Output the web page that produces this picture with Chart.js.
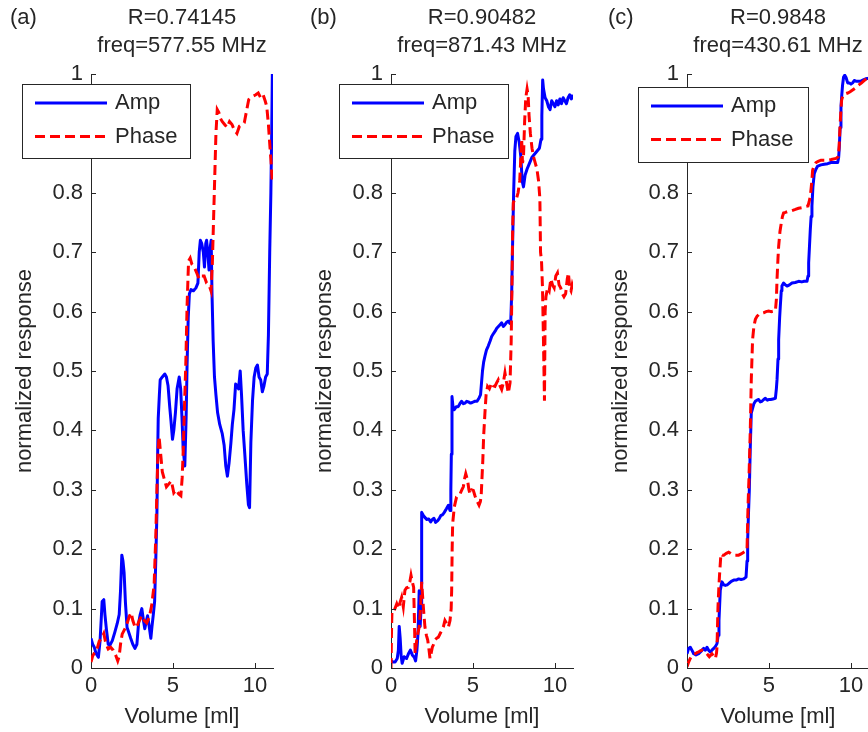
<!DOCTYPE html>
<html>
<head>
<meta charset="utf-8">
<title>Normalized response vs volume</title>
<script src="https://cdn.jsdelivr.net/npm/chart.js@4.4.0/dist/chart.umd.min.js"></script>
<style>
  html, body { margin: 0; padding: 0; background: #fff; }
  #fig { position: relative; width: 868px; height: 732px; overflow: hidden; }
  #fig canvas { position: absolute; top: 0; }
</style>
</head>
<body>
<div id="fig">
  <canvas id="panelA" width="290" height="732" style="left:0px"></canvas>
  <canvas id="panelB" width="290" height="732" style="left:300px"></canvas>
  <canvas id="panelC" width="290" height="732" style="left:596px"></canvas>
</div>
<script>
// tick values shared by all three panels
const xTickValues = [0, 5, 10]
const yTickValues = [0, 0.1, 0.2, 0.3, 0.4, 0.5, 0.6, 0.7, 0.8, 0.9, 1]
const yTickLabels = ['0', '0.1', '0.2', '0.3', '0.4', '0.5', '0.6', '0.7', '0.8', '0.9', '1']

// [volume ml, normalized response]
const ampA = [[0,0.05],[0.1,0.04],[0.2,0.035],[0.3,0.025],[0.45,0.018],[0.55,0.045],[0.62,0.08],[0.68,0.112],[0.78,0.115],[0.85,0.09],[0.94,0.065],[1.05,0.04],[1.15,0.038],[1.3,0.046],[1.45,0.06],[1.6,0.075],[1.72,0.09],[1.8,0.13],[1.88,0.19],[1.95,0.18],[2.02,0.16],[2.1,0.11],[2.2,0.068],[2.3,0.06],[2.42,0.05],[2.55,0.04],[2.68,0.033],[2.8,0.04],[2.9,0.075],[3.0,0.09],[3.1,0.1],[3.2,0.08],[3.28,0.066],[3.38,0.08],[3.45,0.088],[3.55,0.07],[3.65,0.05],[3.72,0.07],[3.8,0.09],[3.88,0.112],[3.95,0.18],[4.02,0.26],[4.06,0.35],[4.1,0.42],[4.17,0.46],[4.22,0.485],[4.35,0.49],[4.5,0.495],[4.6,0.49],[4.7,0.475],[4.8,0.44],[4.88,0.415],[4.97,0.385],[5.05,0.4],[5.15,0.43],[5.25,0.47],[5.38,0.49],[5.47,0.47],[5.55,0.42],[5.62,0.37],[5.72,0.34],[5.8,0.42],[5.86,0.51],[5.93,0.59],[6.0,0.63],[6.1,0.637],[6.25,0.635],[6.4,0.64],[6.52,0.648],[6.6,0.7],[6.67,0.72],[6.75,0.715],[6.85,0.7],[6.92,0.675],[7.0,0.715],[7.05,0.72],[7.12,0.7],[7.2,0.67],[7.28,0.71],[7.33,0.72],[7.38,0.63],[7.45,0.55],[7.53,0.49],[7.62,0.46],[7.72,0.43],[7.85,0.41],[8.0,0.395],[8.12,0.375],[8.22,0.34],[8.32,0.323],[8.42,0.345],[8.53,0.378],[8.62,0.41],[8.72,0.435],[8.82,0.478],[8.92,0.475],[9.0,0.47],[9.1,0.5],[9.18,0.46],[9.28,0.4],[9.38,0.36],[9.5,0.31],[9.6,0.275],[9.67,0.27],[9.75,0.38],[9.85,0.45],[9.95,0.49],[10.05,0.505],[10.15,0.51],[10.25,0.49],[10.35,0.485],[10.45,0.465],[10.55,0.475],[10.65,0.49],[10.75,0.495],[10.82,0.56],[10.9,0.7],[10.97,0.8],[11.02,0.9],[11.06,1.0]]
const phaseA = [[0,0.01],[0.1,0.02],[0.2,0.025],[0.35,0.03],[0.5,0.045],[0.65,0.05],[0.78,0.058],[0.9,0.042],[1.05,0.032],[1.2,0.035],[1.35,0.03],[1.5,0.022],[1.63,0.012],[1.72,0.02],[1.8,0.04],[1.9,0.057],[2.05,0.065],[2.2,0.075],[2.35,0.088],[2.45,0.093],[2.55,0.08],[2.7,0.068],[2.8,0.07],[2.95,0.08],[3.1,0.088],[3.25,0.08],[3.4,0.076],[3.55,0.085],[3.7,0.105],[3.85,0.14],[3.95,0.22],[4.02,0.3],[4.08,0.36],[4.15,0.39],[4.25,0.36],[4.35,0.33],[4.45,0.32],[4.6,0.305],[4.75,0.31],[4.9,0.315],[5.05,0.295],[5.2,0.3],[5.35,0.293],[5.48,0.29],[5.56,0.32],[5.63,0.37],[5.7,0.44],[5.78,0.51],[5.86,0.61],[5.95,0.685],[6.05,0.69],[6.15,0.68],[6.3,0.675],[6.45,0.665],[6.6,0.655],[6.75,0.66],[6.9,0.66],[7.05,0.648],[7.2,0.645],[7.32,0.635],[7.4,0.68],[7.48,0.76],[7.55,0.83],[7.62,0.9],[7.7,0.94],[7.8,0.935],[7.9,0.925],[8.0,0.92],[8.15,0.915],[8.3,0.91],[8.45,0.92],[8.6,0.915],[8.75,0.905],[8.9,0.9],[9.05,0.912],[9.2,0.915],[9.35,0.918],[9.5,0.94],[9.62,0.957],[9.75,0.96],[9.9,0.963],[10.05,0.965],[10.2,0.968],[10.35,0.96],[10.5,0.965],[10.62,0.955],[10.72,0.945],[10.82,0.915],[10.92,0.875],[11.0,0.845],[11.05,0.82]]

const ampB = [[0,0.013],[0.12,0.01],[0.25,0.01],[0.38,0.016],[0.45,0.03],[0.5,0.07],[0.56,0.05],[0.62,0.02],[0.68,0.008],[0.8,0.019],[0.95,0.016],[1.08,0.025],[1.18,0.03],[1.3,0.022],[1.42,0.018],[1.5,0.012],[1.58,0.03],[1.65,0.06],[1.72,0.13],[1.78,0.07],[1.83,0.1],[1.87,0.262],[1.95,0.258],[2.05,0.254],[2.18,0.25],[2.3,0.251],[2.42,0.246],[2.52,0.25],[2.62,0.252],[2.72,0.245],[2.85,0.248],[2.95,0.252],[3.05,0.257],[3.15,0.258],[3.25,0.262],[3.38,0.268],[3.5,0.274],[3.6,0.265],[3.65,0.3],[3.68,0.36],[3.72,0.457],[3.78,0.44],[3.86,0.435],[3.98,0.44],[4.1,0.44],[4.2,0.445],[4.3,0.449],[4.42,0.445],[4.52,0.446],[4.62,0.449],[4.72,0.448],[4.85,0.446],[4.95,0.447],[5.1,0.449],[5.25,0.449],[5.38,0.455],[5.46,0.46],[5.52,0.48],[5.58,0.5],[5.65,0.515],[5.73,0.525],[5.82,0.535],[5.93,0.542],[6.04,0.55],[6.14,0.558],[6.25,0.563],[6.35,0.567],[6.45,0.572],[6.55,0.575],[6.65,0.578],[6.75,0.581],[6.85,0.575],[6.95,0.578],[7.05,0.582],[7.15,0.584],[7.25,0.58],[7.3,0.58],[7.36,0.63],[7.42,0.72],[7.48,0.8],[7.55,0.87],[7.62,0.895],[7.72,0.9],[7.82,0.885],[7.92,0.86],[8.0,0.82],[8.08,0.81],[8.18,0.83],[8.3,0.84],[8.45,0.85],[8.6,0.86],[8.75,0.865],[8.9,0.87],[9.05,0.875],[9.15,0.89],[9.2,0.93],[9.25,0.99],[9.3,0.975],[9.4,0.96],[9.5,0.955],[9.6,0.945],[9.7,0.94],[9.8,0.955],[9.9,0.95],[10.0,0.945],[10.1,0.955],[10.2,0.948],[10.3,0.958],[10.4,0.95],[10.5,0.96],[10.6,0.955],[10.7,0.95],[10.8,0.96],[10.9,0.965],[11.0,0.958],[11.1,0.965]]
const phaseB = [[0,0.0],[0.03,0.06],[0.06,0.097],[0.2,0.097],[0.35,0.108],[0.45,0.1],[0.55,0.11],[0.65,0.119],[0.75,0.103],[0.85,0.131],[0.95,0.135],[1.06,0.136],[1.15,0.145],[1.22,0.156],[1.3,0.145],[1.38,0.136],[1.43,0.08],[1.47,0.024],[1.57,0.047],[1.65,0.06],[1.72,0.069],[1.8,0.1],[1.87,0.145],[1.93,0.12],[1.98,0.1],[2.07,0.069],[2.16,0.055],[2.24,0.047],[2.32,0.03],[2.38,0.016],[2.45,0.025],[2.52,0.035],[2.6,0.04],[2.68,0.047],[2.78,0.05],[2.89,0.052],[3.0,0.058],[3.09,0.063],[3.2,0.07],[3.29,0.08],[3.4,0.075],[3.5,0.069],[3.6,0.08],[3.67,0.1],[3.7,0.131],[3.73,0.2],[3.76,0.243],[3.86,0.271],[4.0,0.288],[4.1,0.29],[4.21,0.293],[4.32,0.3],[4.41,0.305],[4.5,0.32],[4.56,0.327],[4.67,0.316],[4.75,0.3],[4.82,0.293],[4.92,0.3],[5.02,0.299],[5.12,0.29],[5.22,0.282],[5.3,0.278],[5.37,0.274],[5.45,0.28],[5.5,0.29],[5.55,0.32],[5.6,0.35],[5.65,0.39],[5.73,0.43],[5.8,0.46],[5.89,0.474],[6.0,0.47],[6.14,0.48],[6.24,0.475],[6.34,0.474],[6.44,0.48],[6.54,0.485],[6.65,0.475],[6.75,0.469],[6.85,0.48],[6.95,0.497],[7.05,0.48],[7.15,0.463],[7.2,0.47],[7.26,0.48],[7.33,0.55],[7.38,0.65],[7.42,0.74],[7.46,0.783],[7.55,0.79],[7.65,0.79],[7.75,0.8],[7.85,0.82],[7.92,0.86],[7.97,0.89],[8.02,0.85],[8.08,0.86],[8.15,0.92],[8.22,0.96],[8.3,0.975],[8.36,0.965],[8.42,0.93],[8.5,0.9],[8.6,0.875],[8.7,0.86],[8.8,0.85],[8.9,0.84],[9.0,0.82],[9.08,0.79],[9.12,0.7],[9.18,0.685],[9.24,0.64],[9.3,0.55],[9.36,0.45],[9.4,0.6],[9.45,0.625],[9.55,0.64],[9.65,0.635],[9.75,0.655],[9.85,0.645],[9.95,0.64],[10.05,0.66],[10.15,0.665],[10.25,0.645],[10.35,0.64],[10.45,0.63],[10.55,0.625],[10.65,0.63],[10.75,0.655],[10.82,0.665],[10.9,0.64],[10.98,0.635],[11.05,0.645],[11.1,0.64]]

const ampC = [[0,0.024],[0.1,0.033],[0.2,0.035],[0.3,0.03],[0.41,0.024],[0.55,0.022],[0.71,0.024],[0.85,0.028],[1.02,0.033],[1.12,0.03],[1.22,0.035],[1.32,0.03],[1.42,0.027],[1.52,0.03],[1.63,0.033],[1.73,0.036],[1.83,0.041],[1.9,0.055],[1.95,0.08],[2.03,0.131],[2.13,0.145],[2.24,0.14],[2.34,0.139],[2.45,0.14],[2.54,0.142],[2.7,0.146],[2.85,0.148],[3.0,0.148],[3.15,0.15],[3.3,0.149],[3.46,0.15],[3.6,0.153],[3.66,0.18],[3.7,0.215],[3.75,0.26],[3.8,0.299],[3.86,0.372],[3.92,0.429],[4.0,0.437],[4.08,0.445],[4.17,0.449],[4.27,0.451],[4.37,0.452],[4.47,0.448],[4.57,0.449],[4.68,0.452],[4.78,0.454],[4.9,0.451],[4.98,0.452],[5.1,0.452],[5.25,0.453],[5.39,0.454],[5.45,0.47],[5.49,0.485],[5.55,0.52],[5.59,0.553],[5.65,0.59],[5.69,0.609],[5.75,0.635],[5.79,0.643],[5.89,0.648],[6.0,0.645],[6.1,0.643],[6.25,0.645],[6.4,0.648],[6.6,0.649],[6.81,0.651],[7.0,0.65],[7.15,0.651],[7.32,0.651],[7.38,0.66],[7.42,0.682],[7.47,0.71],[7.52,0.738],[7.57,0.76],[7.62,0.778],[7.68,0.81],[7.76,0.832],[7.87,0.84],[7.97,0.845],[8.17,0.847],[8.37,0.848],[8.58,0.849],[8.78,0.851],[9.0,0.851],[9.19,0.851],[9.25,0.86],[9.29,0.877],[9.34,0.91],[9.39,0.943],[9.44,0.965],[9.49,0.982],[9.55,0.995],[9.62,0.998],[9.7,0.994],[9.8,0.985],[9.9,0.985],[10.0,0.983],[10.1,0.985],[10.2,0.989],[10.3,0.988],[10.45,0.988],[10.6,0.988],[10.75,0.99],[10.9,0.992],[11.1,0.993]]
const phaseC = [[0,0.002],[0.1,0.01],[0.2,0.016],[0.3,0.021],[0.41,0.023],[0.51,0.024],[0.61,0.026],[0.71,0.027],[0.81,0.029],[0.91,0.03],[1.0,0.029],[1.08,0.027],[1.15,0.026],[1.22,0.024],[1.3,0.021],[1.36,0.019],[1.45,0.022],[1.52,0.024],[1.62,0.02],[1.73,0.016],[1.8,0.025],[1.83,0.035],[1.89,0.103],[1.95,0.14],[1.99,0.159],[2.04,0.18],[2.07,0.192],[2.15,0.19],[2.24,0.19],[2.4,0.193],[2.54,0.195],[2.7,0.192],[2.85,0.19],[3.0,0.19],[3.15,0.19],[3.3,0.192],[3.46,0.195],[3.58,0.197],[3.66,0.198],[3.72,0.271],[3.78,0.32],[3.82,0.361],[3.86,0.401],[3.92,0.485],[4.0,0.553],[4.08,0.575],[4.17,0.587],[4.27,0.592],[4.37,0.595],[4.52,0.597],[4.67,0.598],[4.82,0.6],[4.98,0.601],[5.15,0.6],[5.3,0.601],[5.39,0.601],[5.45,0.62],[5.49,0.654],[5.55,0.69],[5.59,0.71],[5.67,0.735],[5.75,0.749],[5.82,0.76],[5.89,0.766],[6.0,0.767],[6.2,0.769],[6.4,0.77],[6.61,0.772],[6.8,0.774],[7.01,0.775],[7.2,0.777],[7.38,0.778],[7.45,0.785],[7.52,0.794],[7.58,0.81],[7.62,0.822],[7.66,0.838],[7.75,0.845],[7.87,0.851],[8.0,0.853],[8.17,0.855],[8.38,0.855],[8.58,0.855],[8.8,0.856],[9.09,0.858],[9.23,0.861],[9.28,0.88],[9.33,0.91],[9.38,0.935],[9.43,0.956],[9.5,0.963],[9.59,0.965],[9.7,0.967],[9.8,0.968],[9.95,0.97],[10.1,0.973],[10.25,0.976],[10.45,0.981],[10.65,0.985],[10.85,0.99],[11.1,0.995]]

const INK = '#262626'
const FONT_FAMILY = "'Liberation Sans', Arial, sans-serif"
const FONT = '22px ' + FONT_FAMILY

Chart.defaults.font.family = FONT_FAMILY
Chart.defaults.font.size = 22
Chart.defaults.color = INK

// inward ticks, panel letter and the boxed legend (drawn on top like matlab)
const panelDecor = {
  id: 'panelDecor',
  afterDraw (chart, args, opts) {
    const ctx = chart.ctx
    const { left, bottom } = chart.chartArea
    const xs = chart.scales.x
    const ys = chart.scales.y
    ctx.save()
    ctx.strokeStyle = INK
    ctx.lineWidth = 1
    ctx.beginPath()
    ys.ticks.forEach(t => {
      const py = Math.round(ys.getPixelForValue(t.value)) + 0.5
      ctx.moveTo(left, py)
      ctx.lineTo(left + 5, py)
    })
    xs.ticks.forEach(t => {
      const px = Math.round(xs.getPixelForValue(t.value)) + 0.5
      ctx.moveTo(px, bottom)
      ctx.lineTo(px, bottom - 5)
    })
    ctx.stroke()

    ctx.font = FONT
    ctx.fillStyle = INK
    ctx.textBaseline = 'middle'
    ctx.textAlign = 'left'
    ctx.fillText(opts.tag, opts.tagX, 18)

    const b = opts.box
    ctx.fillStyle = '#fff'
    ctx.fillRect(b.x, b.y, b.w, b.h)
    ctx.strokeStyle = INK
    ctx.strokeRect(b.x + 0.5, b.y + 0.5, b.w, b.h)
    chart.data.datasets.forEach((ds, i) => {
      const ly = b.y + 19 + i * 33.5
      ctx.strokeStyle = ds.borderColor
      ctx.lineWidth = ds.borderWidth
      ctx.setLineDash(ds.borderDash || [])
      ctx.beginPath()
      ctx.moveTo(b.x + 13, ly)
      ctx.lineTo(b.x + 85, ly)
      ctx.stroke()
      ctx.setLineDash([])
      ctx.fillStyle = INK
      ctx.fillText(ds.label, b.x + 93, ly)
    })
    ctx.restore()
  }
}

function toXY (pairs) {
  return pairs.map(p => ({ x: p[0], y: p[1] }))
}

function makePanel (id, amp, phase, title, tag, tagX, box) {
  return new Chart(document.getElementById(id), {
    type: 'line',
    data: {
      datasets: [
        { label: 'Amp', data: toXY(amp), borderColor: '#0000ff', borderWidth: 3, pointRadius: 0, borderJoinStyle: 'round', order: 2 },
        { label: 'Phase', data: toXY(phase), borderColor: '#ff0000', borderWidth: 3, borderDash: [10, 5], pointRadius: 0, order: 1 }
      ]
    },
    plugins: [panelDecor],
    options: {
      responsive: false,
      animation: false,
      events: [],
      layout: { padding: { top: 0, left: 0, right: 17, bottom: 0 } },
      plugins: {
        legend: { display: false },
        tooltip: { enabled: false },
        title: {
          display: true,
          text: title,
          fullSize: false,
          color: INK,
          font: { size: 22, weight: 'normal', lineHeight: 28 / 22 },
          padding: { top: 4, bottom: 14 }
        },
        panelDecor: { tag, tagX, box }
      },
      scales: {
        x: {
          type: 'linear',
          min: 0,
          max: 11.1,
          afterBuildTicks: s => { s.ticks = xTickValues.map(v => ({ value: v })) },
          afterFit: s => { s.height = 64 },
          grid: { display: true, drawOnChartArea: false, drawTicks: false },
          border: { display: true, color: INK, width: 1 },
          ticks: { padding: 5, maxRotation: 0, color: INK },
          title: { display: true, text: 'Volume [ml]', color: INK, padding: { top: 0, bottom: 2 } }
        },
        y: {
          type: 'linear',
          min: 0,
          max: 1,
          afterBuildTicks: s => { s.ticks = yTickValues.map(v => ({ value: v })) },
          afterFit: s => { s.width = 91 },
          grid: { display: true, drawOnChartArea: false, drawTicks: false },
          border: { display: true, color: INK, width: 1 },
          ticks: {
            padding: 8,
            color: INK,
            callback: (v, i) => yTickLabels[i]
          },
          title: { display: true, text: 'normalized response', color: INK, padding: { top: 12, bottom: 0 } }
        }
      }
    }
  })
}

makePanel('panelA', ampA, phaseA, ['R=0.74145', 'freq=577.55 MHz'], '(a)', 10, { x: 22, y: 84, w: 168, h: 74 })
makePanel('panelB', ampB, phaseB, ['R=0.90482', 'freq=871.43 MHz'], '(b)', 10, { x: 39, y: 84, w: 169, h: 74 })
makePanel('panelC', ampC, phaseC, ['R=0.9848', 'freq=430.61 MHz'], '(c)', 12, { x: 42, y: 87, w: 170, h: 75 })
</script>
</body>
</html>
